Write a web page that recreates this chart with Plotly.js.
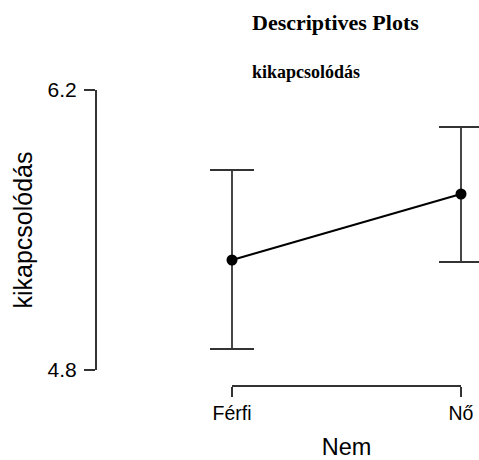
<!DOCTYPE html>
<html>
<head>
<meta charset="utf-8">
<script src="https://cdn.plot.ly/plotly-3.0.1.min.js"></script>
<style>html,body{margin:0;padding:0;background:#fff;}#chart{width:479px;height:460px;}</style>
</head>
<body>
<div id="chart"></div>
<script>
// Data
const categories = ['Férfi', 'Nő'];
const means = [5.35, 5.68];
const upper = [5.80, 6.015];
const lower = [4.905, 5.34];
const yTickVals = [4.8, 6.2];
const yTickText = ['4.8', '6.2'];
const titleText = 'Descriptives Plots';
const subtitleText = 'kikapcsolódás';
const xTitle = 'Nem';
const yTitle = 'kikapcsolódás';

// Layout geometry (pixels)
const W = 479, H = 460;
const M = {l: 95, r: 0, t: 90, b: 75};
const plotW = W - M.l - M.r, plotH = H - M.t - M.b;
const px2x = p => (p - M.l) / plotW;
const px2y = p => (H - M.b - p) / plotH;
const X0 = 232, X1 = 461; // pixel positions of first and last category
const span = (plotW) / (X1 - X0);
const xr = [-(X0 - M.l) / (X1 - X0), -(X0 - M.l) / (X1 - X0) + span];

const errPlus = means.map((m, i) => upper[i] - m);
const errMinus = means.map((m, i) => m - lower[i]);
const idx = categories.map((c, i) => i);

const sans = 'Liberation Sans, Arial, sans-serif';
const serif = 'Liberation Serif, Times New Roman, serif';

const trace = {
  x: idx,
  y: means,
  type: 'scatter',
  mode: 'lines+markers',
  cliponaxis: false,
  line: {color: '#000', width: 2},
  marker: {color: '#000', size: 11},
  error_y: {
    type: 'data', symmetric: false,
    array: errPlus, arrayminus: errMinus,
    color: '#333', thickness: 1.8, width: 22
  },
  hoverinfo: 'skip'
};

// carries the visible category axis (draws nothing itself)
const axisCarrier = {
  x: idx, y: means, xaxis: 'x2', yaxis: 'y',
  type: 'scatter', mode: 'none', hoverinfo: 'skip', showlegend: false
};

const axisFont = {family: sans, size: 19.5, color: '#000'};

const layout = {
  width: W, height: H,
  margin: M,
  paper_bgcolor: '#fff', plot_bgcolor: 'rgba(0,0,0,0)',
  showlegend: false,
  font: {family: sans, color: '#000'},
  xaxis: {
    type: 'linear',
    domain: [0, 1],
    range: xr,
    visible: false,
    showgrid: false, zeroline: false, fixedrange: true
  },
  xaxis2: {
    type: 'linear',
    domain: [px2x(X0), px2x(X1)],
    range: [0, categories.length - 1],
    anchor: 'free', position: 0,
    tickvals: idx, ticktext: categories,
    showline: true, linecolor: '#333', linewidth: 1.5,
    ticks: 'outside', ticklen: 10, tickwidth: 1.5, tickcolor: '#333',
    showgrid: false, zeroline: false,
    tickfont: axisFont,
    title: {text: xTitle, font: {family: sans, size: 23.5, color: '#000'}, standoff: 22},
    automargin: false, fixedrange: true
  },
  yaxis: {
    domain: [px2y(370), px2y(90)],
    range: [4.8, 6.2],
    anchor: 'free', position: 0,
    tickvals: yTickVals, ticktext: yTickText,
    showline: true, linecolor: '#333', linewidth: 1.5,
    ticks: 'outside', ticklen: 11, tickwidth: 1.5, tickcolor: '#333',
    ticklabelstandoff: 3,
    showgrid: false, zeroline: false,
    tickfont: {family: sans, size: 21, color: '#000'},
    title: {text: yTitle, font: {family: sans, size: 25, color: '#000'}, standoff: 6},
    automargin: false, fixedrange: true
  },
  annotations: [
    {text: '<b>' + titleText + '</b>', xref: 'paper', yref: 'paper',
     x: px2x(250), y: px2y(22), xanchor: 'left', yanchor: 'middle', showarrow: false,
     font: {family: serif, size: 22, color: '#000'}},
    {text: '<b>' + subtitleText + '</b>', xref: 'paper', yref: 'paper',
     x: px2x(250), y: px2y(72), xanchor: 'left', yanchor: 'middle', showarrow: false,
     font: {family: serif, size: 18, color: '#000'}}
  ]
};

Plotly.newPlot('chart', [trace, axisCarrier], layout, {displayModeBar: false, staticPlot: true});
</script>
</body>
</html>
